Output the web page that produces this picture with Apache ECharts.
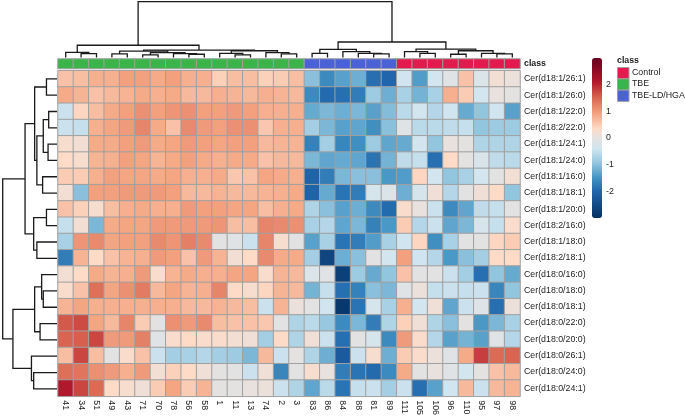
<!DOCTYPE html>
<html><head><meta charset="utf-8">
<script src="https://cdn.jsdelivr.net/npm/echarts@6/dist/echarts.min.js"></script>
<style>html,body{margin:0;padding:0;background:#fff}#c{width:685px;height:418px}</style>
</head><body><div id="c"></div><script>
// ---------- data ----------
const rowNames = ['Cer(d18:1/26:1)','Cer(d18:1/26:0)','Cer(d18:1/22:0)','Cer(d18:2/22:0)','Cer(d18:1/24:1)',
  'Cer(d18:1/24:0)','Cer(d18:1/16:0)','Cer(d18:1/18:1)','Cer(d18:1/20:0)','Cer(d18:2/16:0)',
  'Cer(d18:1/18:0)','Cer(d18:2/18:1)','Cer(d18:0/16:0)','Cer(d18:0/18:0)','Cer(d18:0/18:1)',
  'Cer(d18:0/22:0)','Cer(d18:0/20:0)','Cer(d18:0/26:1)','Cer(d18:0/24:0)','Cer(d18:0/24:1)'];
const colNames = ['41','34','51','49','43','71','70','78','56','58','1','11','13','74','2','3',
  '83','86','84','88','81','89','111','105','106','96','110','95','97','98'];
const classNames = ['Control','TBE','TBE-LD/HGA'];
const classColors = ['#E31A4E','#3BB44A','#4A62D6'];
// class index of each column (0 Control, 1 TBE, 2 TBE-LD/HGA)
const colClass = [1,1,1,1,1,1,1,1,1,1,1,1,1,1,1,1, 2,2,2,2,2,2, 0,0,0,0,0,0,0,0];
const scaleMin = -3, scaleMax = 3;

const values = [
 [0.6,0.65,0.8,0.8,0.95,0.95,0.85,0.95,0.8,0.8,0.45,0.65,0.65,0.45,0.5,0.65, -1.0,-1.6,-1.35,-1.2,-1.9,-2.0, -0.4,-1.4,-0.35,-0.1,0.6,-0.2,0.2,0.1],
 [0.85,0.75,0.6,0.7,0.75,0.85,0.8,0.85,0.7,0.7,0.8,0.75,0.7,0.8,0.75,0.7, -1.6,-1.95,-1.9,-1.75,-0.85,-1.2, -0.75,-1.15,-0.75,0.8,0.5,-0.35,0.05,0.0],
 [-0.45,0.4,0.65,0.85,0.95,1.1,0.95,1.05,1.1,0.95,0.95,1.0,0.95,0.8,0.8,0.8, -1.25,-1.1,-1.2,-1.1,-1.35,-1.05, -0.6,-0.35,-0.65,-0.4,-1.25,-0.95,-0.4,-1.35],
 [-0.45,-0.5,0.8,0.9,1.0,1.2,0.85,0.6,1.15,1.0,0.95,1.1,1.1,0.55,0.8,0.8, -0.8,-1.1,-1.35,-1.3,-1.55,-1.0, -0.1,-0.6,-0.6,-0.55,-0.5,-0.95,-0.85,-0.85],
 [0.25,0.2,0.85,0.85,0.95,1.0,0.85,0.9,1.0,0.95,0.9,0.95,0.95,0.7,0.75,0.75, -1.7,-0.8,-1.65,-1.55,-0.85,-1.3, -1.25,-0.35,-0.95,0.05,0.0,-0.7,-0.7,-0.7],
 [0.35,0.25,0.75,0.8,0.95,0.9,0.75,0.85,0.95,0.85,0.8,0.85,0.85,0.6,0.7,0.7, -1.1,-1.3,-1.25,-1.3,-1.85,-1.15, -0.55,-0.5,-1.9,0.35,0.0,-0.25,-0.55,-0.6],
 [0.5,0.5,0.8,0.95,0.9,0.9,0.85,0.9,0.8,0.8,0.85,0.55,0.6,0.9,0.85,0.8, -2.05,-1.75,-1.1,-1.0,-1.0,-1.45, -1.4,0.4,-0.35,-0.95,-0.75,-0.35,-0.05,0.2],
 [0.2,-1.0,0.95,0.95,1.0,1.0,1.0,0.95,0.7,0.7,0.75,0.7,0.7,0.75,0.8,0.85, -2.05,-1.25,-1.85,-1.75,-0.3,-0.2, -1.2,-0.3,0.15,-0.65,-0.05,0.15,0.35,-0.95],
 [0.6,0.45,0.25,0.65,0.8,0.85,0.8,0.8,1.0,0.95,0.95,0.9,0.9,0.65,0.8,0.85, -0.7,-1.0,-1.35,-1.2,-1.6,-1.95, 0.3,0.05,-0.45,-1.6,-1.3,-0.55,-0.5,-0.05],
 [-0.5,0.2,-1.1,0.85,0.9,0.9,1.0,1.0,1.0,1.0,1.05,0.65,0.65,1.2,1.15,1.1, -0.75,-0.65,-1.3,-1.1,-1.7,-1.45, 0.5,-0.65,-0.45,-1.3,-1.1,-0.3,-0.5,0.3],
 [-0.75,1.05,1.15,0.9,0.95,0.95,1.15,1.05,1.25,1.15,-0.05,-0.1,-0.45,1.2,0.25,-0.05, -1.35,-0.75,-1.85,-1.75,-1.4,-0.75, -0.4,0.4,-1.55,-0.75,-0.05,-0.05,0.4,0.5],
 [-1.75,0.75,0.35,0.6,0.75,0.8,1.0,0.95,0.6,1.0,0.75,0.2,0.35,1.15,0.85,0.85, -0.8,-2.6,-1.2,-1.0,-0.05,-0.35, 0.95,-0.4,-0.65,-1.45,-1.0,-0.8,0.35,0.35],
 [0.2,0.35,0.85,0.75,0.8,1.0,0.3,0.75,0.85,0.8,0.8,0.9,0.9,0.3,0.75,0.7, -0.2,-0.1,-2.7,-0.85,-1.25,-0.95, 0.6,-0.05,-0.05,-0.45,-0.8,-1.9,-0.95,-1.25],
 [0.3,0.6,1.4,0.9,1.1,1.3,0.7,0.9,0.75,0.8,1.2,0.35,0.25,0.4,0.75,0.7, -1.15,-0.5,-1.9,-1.7,-1.0,-1.1, -0.1,0.1,-0.5,-0.45,-0.5,-0.45,-1.65,-0.95],
 [0.75,0.9,0.8,0.8,0.8,0.8,0.8,0.8,0.7,0.7,0.75,0.7,0.65,-0.45,0.75,0.1, -0.05,-0.4,-2.85,-1.85,-0.3,-0.75, 0.8,-0.35,0.15,-1.3,-0.45,-0.15,-1.9,0.1],
 [1.6,1.7,0.9,0.7,1.2,0.5,0.0,1.1,1.0,1.15,0.65,0.6,0.6,0.55,-0.05,-0.7, -0.6,-0.9,-1.6,-1.1,-1.75,-0.7, 0.45,0.15,-0.7,-1.0,0.0,-1.45,-1.1,-0.75],
 [1.5,1.55,1.75,1.0,1.0,1.25,-0.1,0.3,0.35,0.3,0.3,0.2,0.15,-0.8,0.35,-0.7, 0.15,-0.45,-1.9,-0.05,-0.3,-1.6, 1.0,0.3,-0.65,-1.35,-1.15,-1.35,-0.1,-0.65],
 [0.65,1.75,0.65,-0.05,0.3,0.6,-0.45,-0.8,-0.75,-0.65,-0.8,-0.85,-1.1,0.7,-0.45,0.0, -0.7,-1.2,-2.2,-0.45,0.25,-1.2, 0.5,0.3,0.1,-0.1,0.85,1.8,1.45,1.5],
 [1.4,1.35,1.1,1.0,0.8,1.0,0.2,0.45,0.35,0.15,0.0,-0.05,-0.45,0.15,-1.65,-0.05, 0.25,0.05,-1.75,-1.85,-1.95,-1.6, 0.85,-0.05,0.05,-0.1,-0.35,0.0,0.6,0.7],
 [2.1,1.75,1.45,0.35,0.25,0.15,0.5,0.9,0.5,0.75,0.0,0.0,0.05,0.1,-0.45,-0.7, -1.3,-0.6,-1.85,-0.5,-0.45,-0.8, -0.45,-1.9,-1.35,-0.4,0.7,-0.45,0.7,0.75]
];

// dendrograms (hclust style: negative = leaf -(index+1) in display order, positive = earlier merge number)
const colMerge = [[-2,-3],[-1,1],[-4,-5],[-6,-7],[-9,-10],[-8,5],[4,6],[3,7],[-12,-13],[-11,9],
  [-15,-16],[-14,11],[10,12],[8,13],[2,14],[-21,-22],[-20,16],[-19,17],[-17,-18],[19,18],
  [-24,-25],[-23,21],[-26,-27],[-29,-30],[-28,24],[23,25],[22,26],[20,27],[15,28]];
const colHeight = [12,16,11,8,10,12,15,20,8,13,11,15,21,23,38,11,13,18,13,25,13,18,10,11,13,21,26,48,173];
const rowMerge = [[-1,-2],[-3,-4],[-5,-6],[2,3],[-7,-8],[4,5],[1,6],[-9,-10],[-11,-12],[8,9],
  [7,10],[-14,-15],[-13,12],[-16,-17],[13,14],[-19,-20],[-18,16],[15,17],[11,18]];
const rowHeight = [33,26,28,43,45,63,70,33,63,73,100,43,48,53,70,73,80,138,170];

// ---------- helpers ----------
function dendroSegments(merge, heights) {
  const pos = [], ht = [], segs = [];
  const get = id => id < 0 ? [-id - 1, 0] : [pos[id - 1], ht[id - 1]];
  merge.forEach((m, k) => {
    const a = get(m[0]), b = get(m[1]), h = heights[k];
    pos.push((a[0] + b[0]) / 2); ht.push(h);
    segs.push([a[0], a[1], b[0], b[1], h]);
  });
  return segs;
}
const stops = [[-3,'#053061'],[-2.0,'#2166AC'],[-1.5,'#4393C3'],[-0.95,'#92C5DE'],[-0.4,'#D1E5F0'],
  [0,'#E4E2E1'],[0.35,'#FDDBC7'],[0.9,'#F4A582'],[1.55,'#D6604D'],[2.1,'#B2182B'],[3,'#67001F']];
function hex(c){return [1,3,5].map(i=>parseInt(c.substr(i,2),16));}
function paletteAt(v){
  for (let i=0;i<stops.length-1;i++){
    const [v0,c0]=stops[i],[v1,c1]=stops[i+1];
    if (v<=v1){const t=(v-v0)/(v1-v0);const a=hex(c0),b=hex(c1);
      return 'rgb('+a.map((x,j)=>Math.round(x+(b[j]-x)*t)).join(',')+')';}
  }
  return stops[stops.length-1][1];
}
const palette=[]; for(let i=0;i<=120;i++) palette.push(paletteAt(scaleMin+(scaleMax-scaleMin)*i/120));

const heatData=[]; values.forEach((row,r)=>row.forEach((v,c)=>heatData.push([c,r,v])));
const classData=colClass.map((k,c)=>[c,0,k]);
const FONT='Liberation Sans, Arial, sans-serif';
const TXT='#222';

function dendroRender(horizontal){
  return function(params, api){
    const xa=api.value(0),ha=api.value(1),xb=api.value(2),hb=api.value(3),h=api.value(4);
    const P=(p,hh)=>horizontal? api.coord([hh,p]) : api.coord([p,hh]);
    return {type:'polyline',shape:{points:[P(xa,ha),P(xa,h),P(xb,h),P(xb,hb)]},
      style:{stroke:'#1a1a1a',lineWidth:1.3,fill:null}};
  };
}

const chart=echarts.init(document.getElementById('c'),null,{renderer:'canvas'});
chart.setOption({
  animation:false,
  grid:[
    {left:58,top:70.7,width:462,height:326.3},
    {left:58,top:59,width:462,height:9.5},
    {left:58,top:1.7,width:462,height:55.8},
    {left:2.7,top:70.7,width:54.3,height:326.3},
    {left:592,top:58,width:10,height:160}
  ],
  xAxis:[
    {type:'category',gridIndex:0,data:colNames,axisLine:{show:false},axisTick:{show:false},
     axisLabel:{rotate:-90,margin:4,fontSize:8.8,fontFamily:FONT,color:TXT,interval:0}},
    {type:'category',gridIndex:1,data:colNames,show:false},
    {type:'value',gridIndex:2,min:-0.5,max:colNames.length-0.5,show:false},
    {type:'value',gridIndex:3,min:0,max:rowHeight[rowHeight.length-1],inverse:true,show:false},
    {type:'value',gridIndex:4,show:false}
  ],
  yAxis:[
    {type:'category',gridIndex:0,data:rowNames,inverse:true,position:'right',axisLine:{show:false},axisTick:{show:false},
     axisLabel:{margin:4,fontSize:8.8,fontFamily:FONT,color:TXT,interval:0}},
    {type:'category',gridIndex:1,data:['class'],position:'right',axisLine:{show:false},axisTick:{show:false},
     axisLabel:{margin:4,fontSize:8.8,fontWeight:'bold',fontFamily:FONT,color:TXT}},
    {type:'value',gridIndex:2,min:0,max:colHeight[colHeight.length-1],show:false},
    {type:'value',gridIndex:3,min:-0.5,max:rowNames.length-0.5,inverse:true,show:false},
    {type:'value',gridIndex:4,min:scaleMin,max:scaleMax,interval:1,position:'right',
     axisLine:{show:false},axisTick:{show:false},splitLine:{show:false},
     axisLabel:{margin:4,fontSize:8.8,fontFamily:FONT,color:TXT,
       formatter:v=>(v<=scaleMin||v>=scaleMax)?'':String(v)}}
  ],
  visualMap:[
    {type:'continuous',seriesIndex:0,min:scaleMin,max:scaleMax,inRange:{color:palette},
     left:592,top:58,itemWidth:10,itemHeight:160,padding:0,calculable:false,text:null,
     textStyle:{fontSize:0},hoverLink:false},
    {type:'piecewise',seriesIndex:1,show:false,
     pieces:classNames.map((n,i)=>({value:i,color:classColors[i]}))}
  ],
  series:[
    {type:'heatmap',xAxisIndex:0,yAxisIndex:0,data:heatData,
     itemStyle:{borderColor:'#a0a0a0',borderWidth:1},emphasis:{disabled:true}},
    {type:'heatmap',xAxisIndex:1,yAxisIndex:1,data:classData,
     itemStyle:{borderColor:'#a0a0a0',borderWidth:1},emphasis:{disabled:true}},
    {type:'custom',xAxisIndex:2,yAxisIndex:2,data:dendroSegments(colMerge,colHeight),
     renderItem:dendroRender(false),clip:false,silent:true},
    {type:'custom',xAxisIndex:3,yAxisIndex:3,data:dendroSegments(rowMerge,rowHeight),
     renderItem:dendroRender(true),clip:false,silent:true}
  ],
  graphic:[
    {type:'text',left:617,top:56.5,style:{text:'class',font:'bold 8.8px '+FONT,fill:TXT}}
  ].concat(classNames.map((n,i)=>({type:'rect',left:617,top:67+i*11.3,
      shape:{width:11.5,height:11.3},style:{fill:classColors[i],stroke:'#a0a0a0',lineWidth:1}})))
   .concat(classNames.map((n,i)=>({type:'text',left:632,top:68+i*11.3,
      style:{text:n,font:'8.8px '+FONT,fill:TXT}})))
});
</script></body></html>
